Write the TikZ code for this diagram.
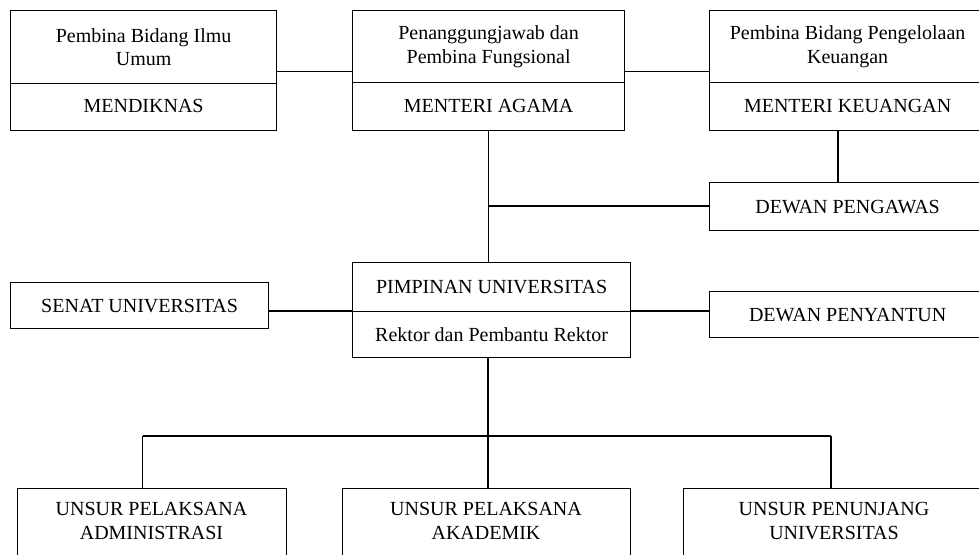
\documentclass[tikz,border=0pt]{standalone}
\usepackage{fontspec}
\setmainfont{Liberation Serif}
\usetikzlibrary{calc}
\begin{document}
\begin{tikzpicture}[x=1pt,y=-1pt,
  box/.style={draw,line width=1.2pt,rectangle,inner sep=0pt,anchor=north west,align=center,
    font=\fontsize{20}{23.5}\selectfont},
  lbl/.style={inner sep=0pt,align=center,font=\fontsize{20}{23.5}\selectfont},
  con/.style={line width=1.2pt}]
\useasboundingbox (0,0) rectangle (979,554);
\clip (0,0) rectangle (979,554);
% top row
\node[box,minimum width=266pt,minimum height=73pt] (t1) at (10,10) {Pembina Bidang Ilmu\\Umum};
\node[box,minimum width=266pt,minimum height=47pt,text depth=2pt] (b1) at (10,83) {MENDIKNAS};
\node[box,minimum width=272pt,minimum height=72pt] (t2) at (352,10) {Penanggungjawab dan\\Pembina Fungsional};
\node[box,minimum width=272pt,minimum height=48pt,text depth=2pt] (b2) at (352,82) {MENTERI AGAMA};
\node[box,minimum width=276pt,minimum height=72pt] (t3) at (709,10) {Pembina Bidang Pengelolaan\\Keuangan};
\node[box,minimum width=276pt,minimum height=48pt,text depth=2pt] (b3) at (709,82) {MENTERI KEUANGAN};
\node[box,minimum width=276pt,minimum height=48pt] (dpg) at (709,182) {DEWAN PENGAWAS};
% middle row
\node[box,minimum width=258pt,minimum height=46pt] (senat) at (10,282) {SENAT UNIVERSITAS};
\node[box,minimum width=278pt,minimum height=49pt] (pt) at (352,262) {PIMPINAN UNIVERSITAS};
\node[box,minimum width=278pt,minimum height=46pt] (pb) at (352,311) {Rektor dan Pembantu Rektor};
\node[box,minimum width=276pt,minimum height=46pt] (dpy) at (709,291) {DEWAN PENYANTUN};
% bottom row
\node[box,minimum width=269pt,minimum height=120pt] (u1) at (17,488) {};
\node[box,minimum width=288pt,minimum height=120pt] (u2) at (342,488) {};
\node[box,minimum width=302pt,minimum height=120pt] (u3) at (683,488) {};
\node[lbl] (u1t) at (151.5,521) {UNSUR PELAKSANA\\ADMINISTRASI};
\node[lbl] (u2t) at (486,521) {UNSUR PELAKSANA\\AKADEMIK};
\node[lbl] (u3t) at (834,521) {UNSUR PENUNJANG\\UNIVERSITAS};
% connectors
\draw[con] ([yshift=13pt]t1.south east) -- ([yshift=12pt]t2.south west);
\draw[con] ([yshift=12pt]t2.south east) -- ([yshift=12pt]t3.south west);
\coordinate (k) at (838,130);
\draw[con] (k) -- (k |- dpg.north);
\draw[con] (b2.south) -- (b2.south |- pt.north);
\coordinate (j1) at (488,206);
\draw[con] (j1) -- (j1 -| dpg.west);
\draw[con] (senat.east |- pb.north west) -- (pb.north west);
\draw[con] (pb.north east) -- (dpy.west |- pb.north east);
\coordinate (bus) at (488,436);
\coordinate (busl) at (142.5,436);
\coordinate (busr) at (831,436);
\draw[con] (pb.south -| bus) -- (bus);
\draw[con] (busl) -- (busr);
\draw[con] (busl) -- (busl |- u1.north);
\draw[con] (bus) -- (bus |- u2.north);
\draw[con] (busr) -- (busr |- u3.north);
\end{tikzpicture}
\end{document}
